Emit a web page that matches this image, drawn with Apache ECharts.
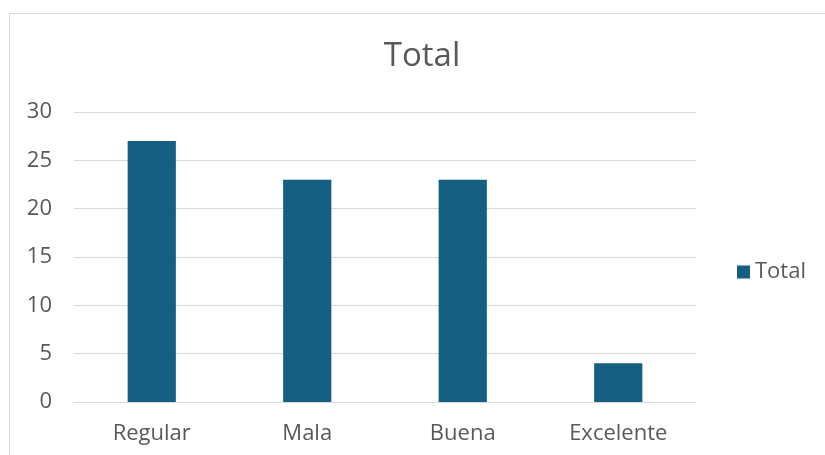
<!DOCTYPE html>
<html><head><meta charset="utf-8">
<script src="https://cdn.jsdelivr.net/npm/echarts@6/dist/echarts.min.js"></script>
<style>
html,body{margin:0;padding:0;background:#fff;overflow:hidden}
#frame{position:absolute;left:9px;top:13px;width:900px;height:500px;border:1px solid #d9d9d9;box-sizing:border-box}
#c{position:absolute;left:0;top:0;width:825px;height:455px}
</style></head><body>
<div id="frame"></div>
<div id="c"></div>
<script>
const categories = ["Regular", "Mala", "Buena", "Excelente"];
const values = [27, 23, 23, 4];
const seriesName = "Total";
const titleText = "Total";
const FONT = "'Open Sans', 'Liberation Sans', sans-serif";
const chart = echarts.init(document.getElementById('c'), null, {renderer:'canvas'});
chart.setOption({
  backgroundColor: 'transparent',
  animation: false,
  title: {text: titleText, left: 422, top: 40, textAlign: 'center', padding: 0,
    textStyle: {fontFamily: FONT, fontSize: 33, fontWeight: 'normal', color: '#595959'}},
  legend: {data: [seriesName], left: 737, top: 261, padding: 0, orient: 'vertical', itemWidth: 13, itemHeight: 13, itemGap: 5,
    icon: 'rect', textStyle: {fontFamily: FONT, fontSize: 22, color: '#595959'}},
  grid: {left: 74, right: 825-696, top: 112, bottom: 455-402, containLabel: false},
  xAxis: {type: 'category', data: categories,
    axisLine: {show: true, lineStyle: {color: '#d9d9d9', width: 1}},
    axisTick: {show: false},
    axisLabel: {fontFamily: FONT, fontSize: 22, color: '#595959', margin: 21}},
  yAxis: {type: 'value', min: 0, max: 30, interval: 5,
    axisLine: {show: false}, axisTick: {show: false},
    splitLine: {lineStyle: {color: '#d9d9d9', width: 1}},
    axisLabel: {fontFamily: FONT, fontSize: 22, color: '#595959', margin: 22}},
  series: [{name: seriesName, type: 'bar', data: values, barWidth: '31%',
    itemStyle: {color: '#156082'}}]
});
</script>
</body></html>
